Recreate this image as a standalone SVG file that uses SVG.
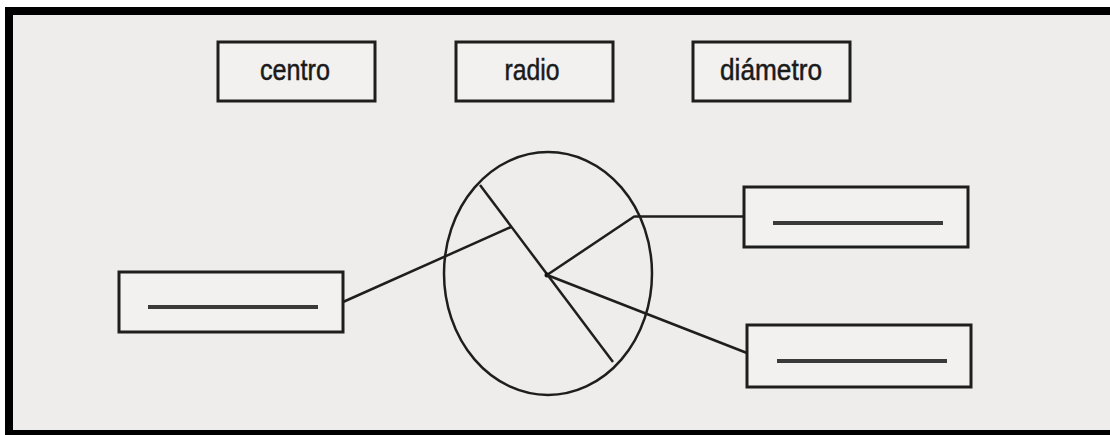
<svg xmlns="http://www.w3.org/2000/svg" width="1110" height="435" viewBox="0 0 1110 435">
<style>
.box{fill:#f2f1ef;stroke:#1e1e1e;stroke-width:3}
.lbl{font-family:"Liberation Sans",Arial,sans-serif;font-size:29px;fill:#1a1a1a;stroke:#1a1a1a;stroke-width:0.5;text-anchor:middle}
.blank{stroke:#3a3a3a;stroke-width:4;stroke-linecap:butt}
.ln{stroke:#1e1e1e;stroke-width:2.5;fill:none}
</style>
<rect x="0" y="0" width="1110" height="435" fill="#ffffff"/>
<rect x="9" y="11" width="1110" height="423" fill="#eeedeb" stroke="#000" stroke-width="8"/>
<g id="centro"><rect class="box" x="218" y="42" width="157" height="59"/><text class="lbl" x="295" y="80" textLength="70" lengthAdjust="spacingAndGlyphs">centro</text></g>
<g id="radio"><rect class="box" x="456" y="42" width="157" height="59"/><text class="lbl" x="532" y="80" textLength="55" lengthAdjust="spacingAndGlyphs">radio</text></g>
<g id="diametro"><rect class="box" x="693" y="42" width="157" height="59"/><text class="lbl" x="771" y="80" textLength="102" lengthAdjust="spacingAndGlyphs">diámetro</text></g>
<g id="circle">
<ellipse class="ln" cx="548" cy="273.5" rx="104" ry="121.5"/>
<line class="ln" x1="480" y1="185" x2="613" y2="362"/>
<line class="ln" x1="547" y1="275" x2="635" y2="216"/>
<circle cx="547" cy="275" r="2.5" fill="#111"/>
</g>
<g id="box-left"><rect class="box" x="119" y="272" width="224" height="60"/><line class="blank" x1="148" y1="307" x2="318" y2="307"/></g>
<g id="box-top-right"><rect class="box" x="744" y="187" width="224" height="60"/><line class="blank" x1="773" y1="223" x2="943" y2="223"/></g>
<g id="box-bottom-right"><rect class="box" x="747" y="325" width="224" height="62"/><line class="blank" x1="777" y1="361" x2="947" y2="361"/></g>
<g id="connectors">
<line class="ln" x1="343" y1="302" x2="511" y2="227"/>
<line class="ln" x1="635" y1="216.5" x2="744" y2="216.5"/>
<line class="ln" x1="547" y1="275" x2="747" y2="353"/>
</g>
</svg>
